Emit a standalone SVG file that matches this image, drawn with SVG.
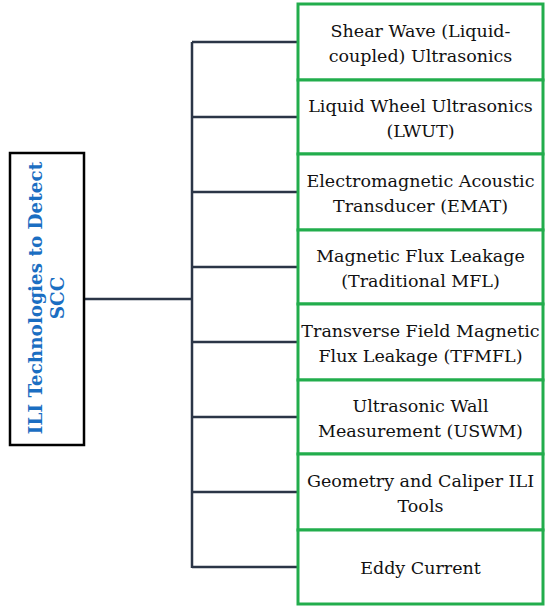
<svg xmlns="http://www.w3.org/2000/svg" width="550" height="613" viewBox="0 0 550 613">
<style>
.box{fill:#fff;stroke:#22ad4c;stroke-width:3}
.root{fill:#fff;stroke:#000;stroke-width:2.5}
.t{font-family:"DejaVu Serif","Liberation Serif",serif;font-size:17.5px;fill:#111;text-anchor:middle}
.rt{font-family:"DejaVu Serif","Liberation Serif",serif;font-size:18.4px;font-weight:bold;fill:#1b6ec2;text-anchor:middle}
.c{stroke:#2b3547;stroke-width:2.5;fill:none}
</style>
<rect width="550" height="613" fill="#fff"/>
<g id="connectors">
<path class="c" d="M84,299H192M192,42V568M192,42H298M192,117H298M192,192H298M192,267H298M192,342H298M192,417H298M192,492H298M192,567H298"/>
</g>
<g id="root">
<rect class="root" x="10" y="153" width="74" height="292"/>
<text class="rt" transform="translate(41.5,298) rotate(-90)">ILI Technologies to Detect</text>
<text class="rt" transform="translate(63.5,298) rotate(-90)">SCC</text>
</g>
<g id="n1"><rect class="box" x="298" y="4" width="245" height="76"/>
<text class="t" x="420.5" y="36.5">Shear Wave (Liquid-</text><text class="t" x="420.5" y="61.5">coupled) Ultrasonics</text></g>
<g id="n2"><rect class="box" x="298" y="80" width="245" height="74"/>
<text class="t" x="420.5" y="111.5">Liquid Wheel Ultrasonics</text><text class="t" x="420.5" y="136.5">(LWUT)</text></g>
<g id="n3"><rect class="box" x="298" y="154" width="245" height="76"/>
<text class="t" x="420.5" y="186.5">Electromagnetic Acoustic</text><text class="t" x="420.5" y="211.5">Transducer (EMAT)</text></g>
<g id="n4"><rect class="box" x="298" y="230" width="245" height="74"/>
<text class="t" x="420.5" y="261.5">Magnetic Flux Leakage</text><text class="t" x="420.5" y="286.5">(Traditional MFL)</text></g>
<g id="n5"><rect class="box" x="298" y="304" width="245" height="76"/>
<text class="t" x="420.5" y="336.5">Transverse Field Magnetic</text><text class="t" x="420.5" y="361.5">Flux Leakage (TFMFL)</text></g>
<g id="n6"><rect class="box" x="298" y="380" width="245" height="74"/>
<text class="t" x="420.5" y="411.5">Ultrasonic Wall</text><text class="t" x="420.5" y="436.5">Measurement (USWM)</text></g>
<g id="n7"><rect class="box" x="298" y="454" width="245" height="76"/>
<text class="t" x="420.5" y="486.5">Geometry and Caliper ILI</text><text class="t" x="420.5" y="511.5">Tools</text></g>
<g id="n8"><rect class="box" x="298" y="530" width="245" height="74"/>
<text class="t" x="420.5" y="574">Eddy Current</text></g>
</svg>
